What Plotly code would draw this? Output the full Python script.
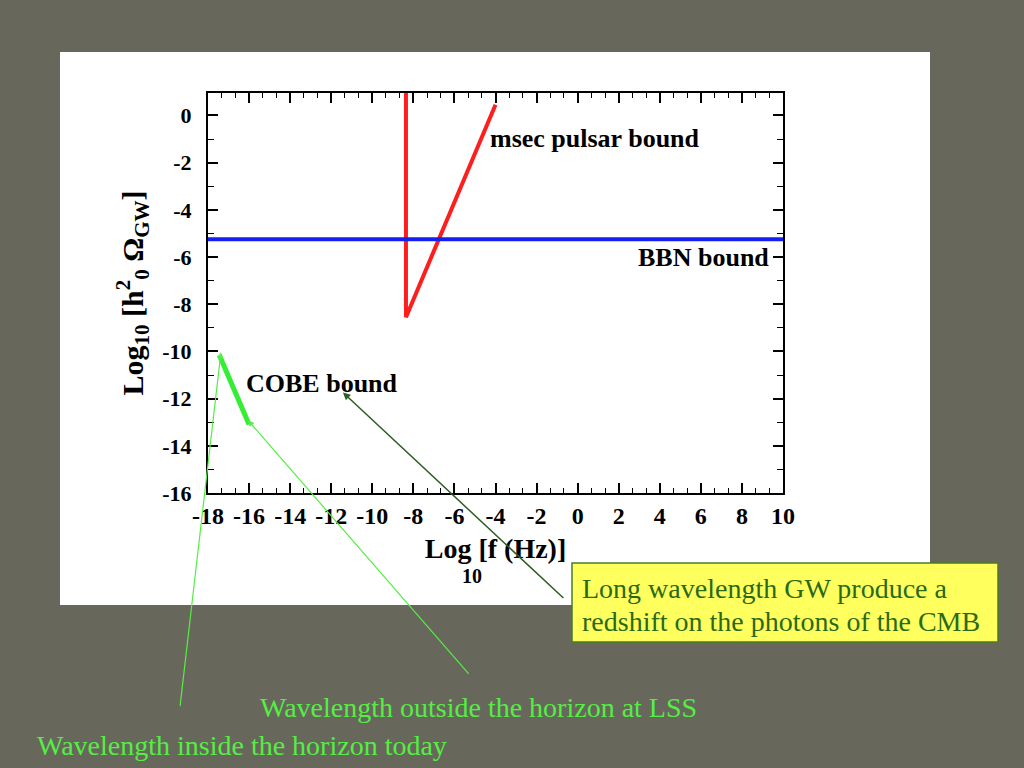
import plotly.graph_objects as go

# ---- data ----
pulsar_x = [-8.36, -8.36, -4.0]
pulsar_y = [1.0, -8.55, 0.45]
bbn_x = [-18, 10]
bbn_y = [-5.25, -5.25]
cobe_x = [-17.45, -16.0]
cobe_y = [-10.15, -13.1]

x_range = [-18, 10]
y_range = [-16, 0.95]
x_tick_vals = [-18, -16, -14, -12, -10, -8, -6, -4, -2, 0, 2, 4, 6, 8, 10]
x_tick_text = ["-18", "-16", "-14", "-12", "-10", "-8", "-6", "-4", "-2",
               "0", "2", "4", "6", "8", "10"]
y_tick_vals = [0, -2, -4, -6, -8, -10, -12, -14, -16]
y_tick_text = ["0", "-2", "-4", "-6", "-8", "-10", "-12", "-14", "-16"]

SERIF = "Liberation Serif, Times New Roman, serif"
BG = "#67685b"
L, R, T, B = 208, 241, 93, 275
W, H = 1024, 768
PW, PH = W - L - R, H - T - B


def px(xp):
    return (xp - L) / PW


def py(yp):
    return (H - B - yp) / PH


fig = go.Figure()
fig.add_trace(go.Scatter(x=pulsar_x, y=pulsar_y, mode="lines",
                         line=dict(color="#ff1e1e", width=4), showlegend=False))
fig.add_trace(go.Scatter(x=bbn_x, y=bbn_y, mode="lines",
                         line=dict(color="#1420f0", width=4), showlegend=False))
fig.add_trace(go.Scatter(x=cobe_x, y=cobe_y, mode="lines",
                         line=dict(color="#33ee33", width=5), showlegend=False))

axis_common = dict(
    showline=True, linewidth=2, linecolor="black", mirror="allticks",
    ticks="inside", ticklen=10, tickwidth=1.5, tickcolor="black",
    showgrid=False, zeroline=False,
)

fig.update_xaxes(
    range=x_range, tickmode="array", tickvals=x_tick_vals, ticktext=x_tick_text,
    tickfont=dict(family=SERIF, size=24, color="black", weight="bold"),
    ticklabelstandoff=0,
    minor=dict(ticks="inside", ticklen=5, tickwidth=1.2, tickcolor="black",
               tickmode="linear", dtick=2 / 3, tick0=-18, showgrid=False),
    title=dict(text="Log [f (Hz)]",
               font=dict(family=SERIF, size=28, color="black", weight="bold"),
               standoff=11),
    **axis_common,
)
fig.update_yaxes(
    range=y_range, tickmode="array", tickvals=y_tick_vals, ticktext=y_tick_text,
    tickfont=dict(family=SERIF, size=22, color="black", weight="bold"),
    ticklabelstandoff=10,
    minor=dict(ticks="inside", ticklen=6, tickwidth=1.2, tickcolor="black",
               tickmode="linear", dtick=1, tick0=0, showgrid=False),
    title=dict(text="Log<sub>10</sub> [h<sup>2</sup><sub>0</sub> \u03a9<sub>GW</sub>]",
               font=dict(family=SERIF, size=30, color="black", weight="bold"),
               standoff=10),
    **axis_common,
)

shapes = [
    dict(type="rect", xref="paper", yref="paper",
         x0=px(60), x1=px(930), y0=py(605), y1=py(52),
         fillcolor="white", line=dict(width=0), layer="below"),
    dict(type="rect", xref="paper", yref="paper",
         x0=px(572), x1=px(998), y0=py(642), y1=py(563),
         fillcolor="#ffff5e", line=dict(color="#4c7a2c", width=1.5), layer="above"),
]

bold_lbl = dict(family=SERIF, size=26, color="black", weight="bold")
box_font = dict(family=SERIF, size=28, color="#2a6a14")
cap_font = dict(family=SERIF, size=28, color="#55ee44")
annotations = [
    dict(x=-4.37, y=-0.97, xref="x", yref="y", text="msec pulsar bound",
         showarrow=False, xanchor="left", yanchor="middle", font=bold_lbl),
    dict(x=9.42, y=-6.0, xref="x", yref="y", text="BBN bound",
         showarrow=False, xanchor="right", yanchor="middle", font=bold_lbl),
    dict(x=-16.25, y=-11.36, xref="x", yref="y", text="COBE bound",
         showarrow=False, xanchor="left", yanchor="middle", font=bold_lbl),
    # subscript of x title
    dict(x=px(472), y=py(576), xref="paper", yref="paper", text="10",
         showarrow=False, xanchor="center", yanchor="middle",
         font=dict(family=SERIF, size=20, color="black", weight="bold")),
    # yellow box text
    dict(x=px(580), y=py(588), xref="paper", yref="paper",
         text="Long wavelength GW produce a",
         showarrow=False, xanchor="left", yanchor="middle", font=box_font),
    dict(x=px(580), y=py(621), xref="paper", yref="paper",
         text="redshift on the photons of the CMB",
         showarrow=False, xanchor="left", yanchor="middle", font=box_font),
    # green captions
    dict(x=px(258), y=py(707), xref="paper", yref="paper",
         text="Wavelength outside the horizon at LSS",
         showarrow=False, xanchor="left", yanchor="middle", font=cap_font),
    dict(x=px(35), y=py(745), xref="paper", yref="paper",
         text="Wavelength inside the horizon today",
         showarrow=False, xanchor="left", yanchor="middle", font=cap_font),
    # arrows
    dict(x=-11.43, y=-11.74, xref="x", yref="y", text="", showarrow=True,
         ax=222, ay=207, arrowhead=2, arrowsize=1, arrowwidth=1.5,
         arrowcolor="#2d5e22", standoff=0),
    dict(x=-16.05, y=-12.92, xref="x", yref="y", text="", showarrow=True,
         ax=222, ay=255, arrowhead=2, arrowsize=1, arrowwidth=1.2,
         arrowcolor="#55ee44", standoff=0),
    dict(x=-17.37, y=-10.04, xref="x", yref="y", text="", showarrow=True,
         ax=-41, ay=355, arrowhead=2, arrowsize=1, arrowwidth=1.2,
         arrowcolor="#55ee44", standoff=0),
]

fig.update_layout(
    width=W, height=H,
    margin=dict(l=L, r=R, t=T, b=B, autoexpand=False),
    paper_bgcolor=BG, plot_bgcolor="white",
    shapes=shapes, annotations=annotations,
    showlegend=False,
)

fig.write_html(
    "out.html",
    config={"displayModeBar": False},
    post_script="document.body.style.margin='0';"
                "document.body.style.background='" + BG + "';",
)
